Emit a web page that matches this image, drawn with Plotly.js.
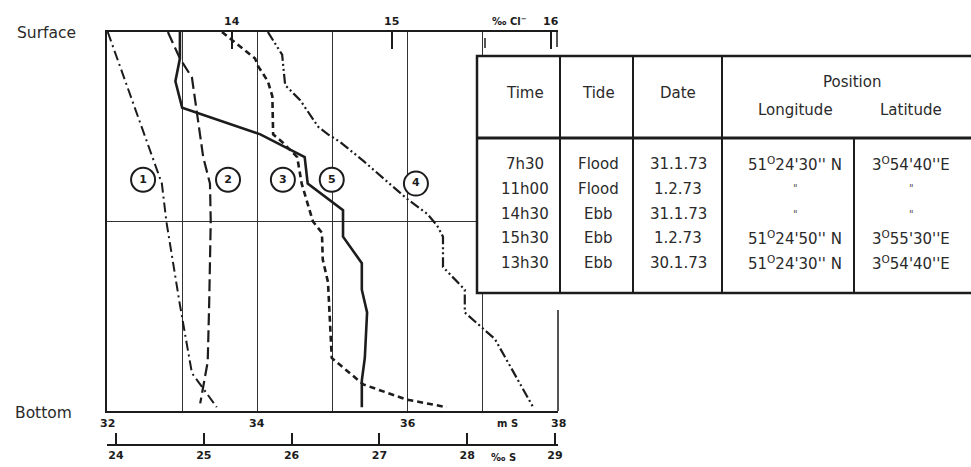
<!DOCTYPE html>
<html>
<head>
<meta charset="utf-8">
<script src="https://cdn.plot.ly/plotly-3.0.1.min.js"></script>
<style>html,body{margin:0;padding:0;background:#fff;}#chart{width:971px;height:467px;}</style>
</head>
<body>
<div id="chart"></div>
<script>
// ---- data: conductivity (mS) versus relative depth (0 = surface, 1 = bottom)
const depth1 = [0, 0.33, 0.40, 0.50, 0.72, 0.90, 0.99];
const cond1  = [32.01, 32.61, 32.73, 32.79, 32.97, 33.13, 33.46];

const depth2 = [0, 0.07, 0.12, 0.18, 0.27, 0.33, 0.40, 0.50, 0.71, 0.87, 0.98];
const cond2  = [32.81, 32.97, 33.13, 33.17, 33.24, 33.28, 33.37, 33.38, 33.36, 33.34, 33.24];

const depth3 = [0, 0.07, 0.09, 0.13, 0.17, 0.27, 0.29, 0.33, 0.40, 0.50, 0.53, 0.60, 0.66, 0.77, 0.86, 0.93, 0.97, 0.99];
const cond3  = [33.53, 33.97, 34.01, 34.14, 34.20, 34.21, 34.33, 34.53, 34.59, 34.74, 34.86, 34.87, 34.94, 34.97, 34.99, 35.41, 35.99, 36.52];

const depth4 = [0, 0.06, 0.14, 0.18, 0.25, 0.27, 0.29, 0.34, 0.44, 0.48, 0.51, 0.54, 0.62, 0.68, 0.74, 0.81, 0.99];
const cond4  = [34.14, 34.33, 34.37, 34.57, 34.81, 34.94, 35.10, 35.41, 35.99, 36.26, 36.39, 36.47, 36.47, 36.76, 36.76, 37.16, 37.67];

const depth5 = [0, 0.07, 0.13, 0.20, 0.27, 0.33, 0.40, 0.47, 0.54, 0.61, 0.68, 0.74, 0.86, 0.92, 0.99];
const cond5  = [32.97, 32.97, 32.91, 33.00, 34.04, 34.63, 34.67, 35.14, 35.14, 35.39, 35.39, 35.46, 35.43, 35.39, 35.39];

const curveLabels = ['1', '2', '3', '5', '4'];
const labelCond   = [32.48, 33.61, 34.34, 34.99, 36.11];
const labelDepth  = [0.39, 0.39, 0.39, 0.39, 0.40];

// axis tick values / labels
const condTicks = [32, 34, 36, 38];
const chlorTicks = [14, 15, 16];
const salTicks = [24, 25, 26, 27, 28, 29];

// table
const tblTimes = ['7h30', '11h00', '14h30', '15h30', '13h30'];
const tblTides = ['Flood', 'Flood', 'Ebb', 'Ebb', 'Ebb'];
const tblDates = ['31.1.73', '1.2.73', '31.1.73', '1.2.73', '30.1.73'];
const tblLong  = ["51<sup>O</sup>24'30'' N", '"', '"', "51<sup>O</sup>24'50'' N", "51<sup>O</sup>24'30'' N"];
const tblLat   = ["3<sup>O</sup>54'40''E", '"', '"', "3<sup>O</sup>55'30''E", "3<sup>O</sup>54'40''E"];

// ---- layout helpers (pixel -> paper)
const W = 971, H = 467;
const PX = p => p / W;
const PY = p => 1 - p / H;
const ink = '#1c1c1c';
const txt = '#2a2a2a';

const lineStyle = (dash, w) => ({ color: ink, width: w, dash: dash });
const traces = [
  { x: cond1, y: depth1, mode: 'lines', line: lineStyle('10px,4px,2px,4px', 2) },
  { x: cond2, y: depth2, mode: 'lines', line: lineStyle('12px,5px', 2.2) },
  { x: cond3, y: depth3, mode: 'lines', line: lineStyle('6px,4px', 2.6) },
  { x: cond4, y: depth4, mode: 'lines', line: lineStyle('10px,3px,2px,3px,2px,3px', 2.2) },
  { x: cond5, y: depth5, mode: 'lines', line: lineStyle('solid', 2.6) },
  { x: labelCond, y: labelDepth, mode: 'markers+text', text: curveLabels,
    textposition: 'middle center', textfont: { family: 'DejaVu Sans', size: 11, color: ink, weight: 'bold' },
    marker: { symbol: 'circle', size: 24, color: '#fff', line: { color: ink, width: 2 } } },
  // anchors for the auxiliary scales
  { x: chlorTicks, y: [0, 0, 0], xaxis: 'x2', mode: 'markers', marker: { opacity: 0 } },
  { x: salTicks, y: salTicks.map(() => 0), xaxis: 'x3', mode: 'markers', marker: { opacity: 0 } }
].map(t => Object.assign({ showlegend: false, hoverinfo: 'skip' }, t));

const xDom = [PX(107), PX(558)];
const yDom = [PY(411), PY(32)];
const tickFont = { family: 'DejaVu Sans', size: 11, color: ink };
const unitFont = { family: 'DejaVu Sans', size: 10, color: ink };

const annotations = [];
const addText = (text, x, y, opts) => annotations.push(Object.assign({
  text: text, x: x, y: y, xref: 'paper', yref: 'paper', showarrow: false,
  xanchor: 'center', yanchor: 'middle', font: { family: 'DejaVu Sans', size: 15, color: txt }
}, opts || {}));
const addAxisText = (text, x, xref, y, font) => annotations.push({
  text: text, x: x, xref: xref, y: PY(y), yref: 'paper', showarrow: false,
  xanchor: 'center', yanchor: 'middle', font: font
});

addText('Surface', PX(15), PY(33), { xanchor: 'left', font: { family: 'DejaVu Sans', size: 15.5, color: txt } });
addText('Bottom', PX(13), PY(413), { xanchor: 'left', font: { family: 'DejaVu Sans', size: 15.5, color: txt } });

// conductivity labels (bottom of frame)
condTicks.forEach(v => addAxisText('<b>' + v + '</b>', v, 'x', 423, tickFont));
addAxisText('<b>m S</b>', 37.33, 'x', 423, unitFont);

// chlorinity labels (top)
chlorTicks.forEach(v => addAxisText('<b>' + v + '</b>', v, 'x2', 21, tickFont));
addAxisText('<b>‰ Cl<sup>−</sup></b>', 15.74, 'x2', 21, unitFont);

// salinity unit
addAxisText('<b>‰ S</b>', 28.41, 'x3', 457, unitFont);

// table text
const colT = 525, colTide = 598, colDate = 678, colLong = 795, colLat = 911;
const rowY = [164, 189, 214, 238, 263];
addText('Time', PX(colT), PY(93));
addText('Tide', PX(colTide), PY(93));
addText('Date', PX(colDate), PY(93));
addText('Position', PX(852), PY(82));
addText('Longitude', PX(colLong), PY(110));
addText('Latitude', PX(colLat), PY(110));
const dittoFont = { family: 'DejaVu Sans', size: 10, color: '#555' };
rowY.forEach((ry, i) => {
  addText(tblTimes[i], PX(colT), PY(ry));
  addText(tblTides[i], PX(colTide), PY(ry));
  addText(tblDates[i], PX(colDate), PY(ry));
  addText(tblLong[i], PX(colLong), PY(ry), tblLong[i] === '"' ? { font: dittoFont } : {});
  addText(tblLat[i], PX(colLat), PY(ry), tblLat[i] === '"' ? { font: dittoFont } : {});
});

const seg = (x0, y0, x1, y1, w) => ({ type: 'line', xref: 'paper', yref: 'paper',
  x0: PX(x0), y0: PY(y0), x1: PX(x1), y1: PY(y1), line: { color: ink, width: w }, layer: 'above' });

const shapes = [
  // table background and rules
  { type: 'rect', xref: 'paper', yref: 'paper', x0: PX(477), x1: PX(975), y0: PY(293), y1: PY(56),
    fillcolor: '#fff', line: { color: ink, width: 2.5 }, layer: 'above' },
  seg(477, 138, 975, 138, 3),
  seg(560, 56, 560, 293, 2),
  seg(633, 56, 633, 293, 2),
  seg(722, 56, 722, 293, 2),
  seg(854, 138, 854, 293, 2),
  // right edge of frame (partly) and marks near 16
  seg(558, 310, 558, 411, 1.5),
  seg(557, 32, 557, 47, 1.5),
  seg(485, 38, 485, 48, 1.5)
];

const layout = {
  width: W, height: H,
  margin: { l: 0, r: 0, t: 0, b: 0 },
  paper_bgcolor: '#fff', plot_bgcolor: '#fff',
  showlegend: false,
  xaxis: { domain: xDom, range: [32, 38], tickvals: [33, 34, 35, 36, 37], showticklabels: false,
    ticks: '', showgrid: true, gridcolor: '#333', gridwidth: 1, zeroline: false,
    showline: true, linecolor: ink, linewidth: 2 },
  yaxis: { domain: yDom, range: [1, 0], tickvals: [0.5], showticklabels: false, ticks: '',
    showgrid: true, gridcolor: '#333', gridwidth: 1, zeroline: false,
    showline: true, linecolor: ink, linewidth: 2 },
  xaxis2: { overlaying: 'x', side: 'top', anchor: 'y', range: [13.216, 16.044],
    tickvals: chlorTicks, ticks: 'inside', ticklen: 17, tickwidth: 2, tickcolor: ink,
    showticklabels: false, showgrid: false, zeroline: false, showline: true, linecolor: ink, linewidth: 2 },
  xaxis3: { overlaying: 'x', side: 'bottom', anchor: 'free', position: PY(445),
    range: [23.8975, 29.034], tickvals: salTicks, ticktext: salTicks.map(v => '<b>' + v + '</b>'),
    ticks: 'inside', ticklen: 11, tickwidth: 2, tickcolor: ink, tickfont: tickFont,
    showgrid: false, zeroline: false, showline: true, linecolor: ink, linewidth: 2 },
  annotations: annotations,
  shapes: shapes
};

Plotly.newPlot('chart', traces, layout, { staticPlot: true, displayModeBar: false });
</script>
</body>
</html>
